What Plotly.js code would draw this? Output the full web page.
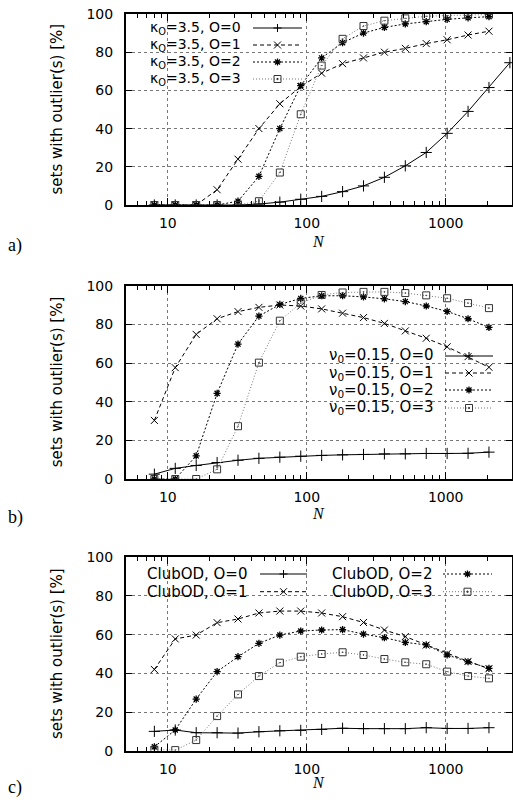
<!DOCTYPE html>
<html><head><meta charset="utf-8">
<script src="https://cdn.plot.ly/plotly-3.0.1.min.js"></script>
<style>html,body{margin:0;padding:0;background:#fff;overflow:hidden}</style>
</head><body><div id="chart" style="width:513px;height:807px"></div>
<script>
// ---- data ----
const N    = [8, 11.31, 16, 22.63, 32, 45.25, 64, 90.51, 128, 181.02, 256, 362.04, 512, 724.08, 1024, 1448.15, 2048];
const N_a0 = [8, 11.31, 16, 22.63, 32, 45.25, 64, 90.51, 128, 181.02, 256, 362.04, 512, 724.08, 1024, 1448.15, 2048, 2896.31];

const a_O0 = [0, 0, 0, 0, 0, 0.5, 1.5, 3, 4.5, 7, 10, 14.5, 20.5, 27.5, 37.5, 49, 61.5, 74.5];
const a_O1 = [0, 0, 0, 8, 24, 40, 53, 62, 69, 74, 77, 80, 82, 84.5, 86.5, 89, 91];
const a_O2 = [0, 0, 0, 0, 2, 15, 40, 62.5, 77, 85, 90, 93, 94.8, 96, 97.2, 98, 98.6];
const a_O3 = [0, 0, 0, 0, 0, 2, 17, 47.5, 73, 87, 93.7, 96.5, 97.7, 98.8, 99.2, 99.5, 99.7];

const b_O0 = [2.5, 5.5, 7, 8.5, 9.7, 10.7, 11.3, 11.8, 12.2, 12.5, 12.7, 13, 13, 13.2, 13.2, 13.3, 13.9];
const b_O1 = [30.3, 57.6, 74.8, 82.9, 86.6, 88.8, 90, 89.5, 88, 85.8, 83.5, 80.5, 76.6, 72.8, 68.4, 63.3, 57.8];
const b_O2 = [0, 0, 12, 44.3, 69.8, 84.3, 90.3, 93.4, 94.8, 94.8, 94.2, 93.2, 91.8, 89.5, 86.7, 82.9, 78.4];
const b_O3 = [0, 0, 0, 5, 27.3, 60.2, 81.9, 91, 95.2, 96.5, 96.8, 96.8, 96.2, 95, 93.5, 91, 88.4];

const c_O0 = [10, 10.7, 9.3, 9.3, 9.1, 9.8, 10.3, 10.5, 11, 11.6, 11.4, 11.4, 11.4, 11.9, 11.5, 11.5, 11.9];
const c_O1 = [42, 57.8, 59.8, 66.2, 68.1, 71.2, 72.2, 72.2, 71.2, 69.3, 66.3, 62.4, 59, 54.6, 50.2, 46.2, 42.4];
const c_O2 = [2, 10.7, 26.7, 40.9, 48.6, 55.5, 59.8, 61.9, 62.4, 62.6, 60.3, 58.4, 56, 54.7, 49.5, 46, 42.6];
const c_O3 = [0.5, 0.3, 5.5, 17.9, 29.1, 38.6, 45.5, 48.6, 50, 50.9, 49.5, 47.4, 45.7, 44.7, 40.9, 38.6, 37.4];

const namesA = ['κ<sub>O</sub>=3.5, O=0', 'κ<sub>O</sub>=3.5, O=1', 'κ<sub>O</sub>=3.5, O=2', 'κ<sub>O</sub>=3.5, O=3'];
const namesB = ['ν<sub>0</sub>=0.15, O=0', 'ν<sub>0</sub>=0.15, O=1', 'ν<sub>0</sub>=0.15, O=2', 'ν<sub>0</sub>=0.15, O=3'];
const namesC = ['ClubOD, O=0', 'ClubOD, O=1', 'ClubOD, O=2', 'ClubOD, O=3'];
const xTickVals = [10, 100, 1000];
const xTickText = ['10', '100', '1000'];
const panelLabels = ['a)', 'b)', 'c)'];

// ---- geometry (pixels) ----
const W = 513, H = 807, ML = 126, MR = 1;
const PW = W - ML - MR;
const px2x = px => (px - ML) / PW;
const py2y = py => 1 - py / H;
const panels = [
  {top: 14, bot: 205, ttl: 241, lab: 246},
  {top: 285.7, bot: 479, ttl: 513, lab: 517},
  {top: 557.3, bot: 750.7, ttl: 782, lab: 787}
];

const styles = [
  {dash: 'solid',   lc: '#000', sym: 'cross-thin-open', size: 8, mc: '#000', mw: 1},
  {dash: '4px,3px', lc: '#000', sym: 'x-thin-open',     size: 7, mc: '#000', mw: 1},
  {dash: '2px,2px', lc: '#000', sym: 'asterisk-open',   size: 6, mc: '#000', mw: 1.3},
  {dash: '1px,2px', lc: '#777', sym: 'square-open-dot', size: 7, mc: '#333', mw: 1}
];

const series = [
  [[N_a0, a_O0], [N, a_O1], [N, a_O2], [N, a_O3]],
  [[N, b_O0], [N, b_O1], [N, b_O2], [N, b_O3]],
  [[N, c_O0], [N, c_O1], [N, c_O2], [N, c_O3]]
];
const allNames = [namesA, namesB, namesC];

const traces = [];
series.forEach((ps, p) => {
  ps.forEach((s, k) => {
    const st = styles[k];
    traces.push({
      x: s[0], y: s[1], type: 'scatter', mode: 'lines+markers',
      name: allNames[p][k], showlegend: false,
      xaxis: p === 0 ? 'x' : 'x' + (p + 1), yaxis: p === 0 ? 'y' : 'y' + (p + 1),
      line: {color: st.lc, width: 1, dash: st.dash},
      marker: {symbol: st.sym, size: st.size, color: st.mc, line: {color: st.mc, width: st.mw}}
    });
  });
});

const minorVals = [];
[1, 10, 100, 1000].forEach(d => { for (let k = 2; k <= 9; k++) minorVals.push(k * d); });

const tickFont = {family: 'DejaVu Sans', size: 14, color: '#000'};
function xAxis(anchor) {
  return {
    type: 'log', range: [Math.log10(5), Math.log10(3000)], domain: [0, 1], anchor: anchor,
    tickmode: 'array', tickvals: xTickVals, ticktext: xTickText,
    ticks: 'inside', ticklen: 7, tickwidth: 1, tickcolor: '#000', tickfont: tickFont,
    ticklabelstandoff: 4,
    showline: true, linecolor: '#000', linewidth: 2, mirror: 'ticks',
    showgrid: true, gridcolor: '#777', gridwidth: 1, griddash: 'dot', zeroline: false,
    minor: {tickmode: 'array', tickvals: minorVals, ticks: 'inside', ticklen: 4, tickwidth: 1, tickcolor: '#000', showgrid: false},
    automargin: false, fixedrange: true
  };
}
function yAxis(anchor, p) {
  return {
    range: [0, 100], tick0: 0, dtick: 20, domain: [py2y(panels[p].bot), py2y(panels[p].top)], anchor: anchor,
    ticks: 'inside', ticklen: 6, tickwidth: 1, tickcolor: '#000', tickfont: tickFont,
    ticklabelstandoff: 8,
    showline: true, linecolor: '#000', linewidth: 2, mirror: 'ticks',
    showgrid: true, gridcolor: '#777', gridwidth: 1, griddash: 'dot', zeroline: false,
    automargin: false, fixedrange: true
  };
}

const annotations = [];
const shapes = [];
panels.forEach((pn, p) => {
  annotations.push({xref: 'paper', yref: 'paper', x: 0, xshift: 57 - ML, y: py2y((pn.top + pn.bot) / 2),
    text: 'sets with outlier(s) [%]', textangle: -90, showarrow: false, xanchor: 'center', yanchor: 'middle',
    font: {family: 'DejaVu Sans', size: 15, color: '#000'}});
  annotations.push({xref: 'paper', yref: 'paper', x: px2x(318), y: py2y(pn.ttl), text: '<i>N</i>',
    showarrow: false, xanchor: 'center', yanchor: 'middle', borderpad: 0,
    font: {family: 'Liberation Serif', size: 16, color: '#000'}});
  annotations.push({xref: 'paper', yref: 'paper', x: px2x(6), y: py2y(pn.lab), text: panelLabels[p],
    showarrow: false, xanchor: 'left', yanchor: 'middle',
    font: {family: 'Liberation Serif', size: 18, color: '#000'}});
});

// legend boxes (hide gridlines, under traces)
[[127, 15, 310, 89], [318, 342, 511, 420], [127, 558, 500, 600]].forEach(b => {
  shapes.push({type: 'rect', xref: 'paper', yref: 'paper', x0: px2x(b[0]), x1: px2x(b[2]), y0: py2y(b[3]), y1: py2y(b[1]),
    fillcolor: '#fff', line: {width: 0}, layer: 'between'});
});

const glyph = {
  0: 'M-4,0L4,0M0,-4L0,4',
  1: 'M-3.5,-3.5L3.5,3.5M-3.5,3.5L3.5,-3.5',
  2: 'M-3.5,0L3.5,0M0,-3.5L0,3.5M-2.5,-2.5L2.5,2.5M-2.5,2.5L2.5,-2.5',
  3: 'M-3.5,-3.5L3.5,-3.5L3.5,3.5L-3.5,3.5Z M-0.6,-0.6L0.6,-0.6L0.6,0.6L-0.6,0.6Z'
};
function legendEntry(names, k, textRight, lx0, lx1, cy, fs) {
  const st = styles[k];
  annotations.push({xref: 'paper', yref: 'paper', x: px2x(textRight), y: py2y(cy), text: names[k],
    showarrow: false, xanchor: 'right', yanchor: 'middle', borderpad: 0,
    font: {family: 'DejaVu Sans', size: fs, color: '#000'}});
  shapes.push({type: 'line', xref: 'paper', yref: 'paper', x0: px2x(lx0), x1: px2x(lx1), y0: py2y(cy), y1: py2y(cy),
    line: {color: st.lc, width: 1, dash: st.dash}, layer: 'above'});
  shapes.push({type: 'path', xref: 'paper', yref: 'paper', xsizemode: 'pixel', ysizemode: 'pixel',
    xanchor: px2x((lx0 + lx1) / 2), yanchor: py2y(cy), path: glyph[k],
    line: {color: st.mc, width: st.mw}, fillcolor: 'rgba(0,0,0,0)', layer: 'above'});
}
[28, 45, 62, 79].forEach((cy, k) => legendEntry(namesA, k, 242, 253, 302, cy, 14));
[356, 373, 390, 408].forEach((cy, k) => legendEntry(namesB, k, 435, 445, 493, cy, 15));
legendEntry(namesC, 0, 248, 260, 307, 574, 15);
legendEntry(namesC, 1, 248, 260, 307, 591.7, 15);
legendEntry(namesC, 2, 433, 443, 492, 574, 15);
legendEntry(namesC, 3, 433, 443, 492, 591.7, 15);

const layout = {
  width: W, height: H, margin: {l: ML, r: MR, t: 0, b: 0, pad: 0},
  paper_bgcolor: '#fff', plot_bgcolor: '#fff', showlegend: false,
  xaxis: xAxis('y'), xaxis2: xAxis('y2'), xaxis3: xAxis('y3'),
  yaxis: yAxis('x', 0), yaxis2: yAxis('x2', 1), yaxis3: yAxis('x3', 2),
  annotations: annotations, shapes: shapes
};
Plotly.newPlot('chart', traces, layout, {staticPlot: true, displayModeBar: false});
</script></body></html>
